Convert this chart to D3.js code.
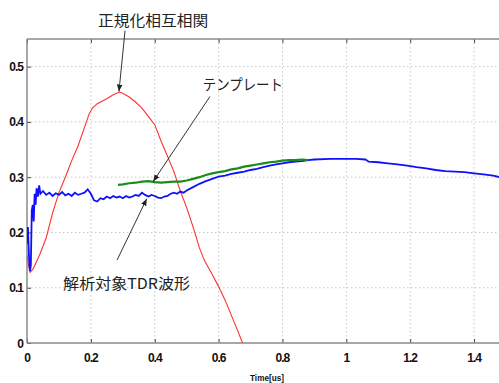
<!DOCTYPE html>
<html>
<head>
<meta charset="utf-8">
<script src="https://cdn.jsdelivr.net/npm/d3@7"></script>
<style>
  body { margin: 0; background: #fff; }
  svg { display: block; }
  .tick-label { font-family: "Liberation Sans", Arial, sans-serif; font-weight: bold; font-size: 12px; letter-spacing: -1px; fill: #111; }
  .note { font-family: "Noto Sans CJK JP", sans-serif; font-size: 15px; fill: #222; }
</style>
</head>
<body>
<div id="app"></div>
<script>
// time [us], value
const nccSeries = [
  [0, 0.159], [0.005, 0.14], [0.01, 0.128], [0.02, 0.135], [0.04, 0.16], [0.06, 0.19],
  [0.08, 0.235], [0.1, 0.272], [0.12, 0.3], [0.14, 0.33], [0.16, 0.357], [0.18, 0.39],
  [0.195, 0.415], [0.205, 0.425], [0.22, 0.433], [0.25, 0.442], [0.27, 0.449], [0.29, 0.454],
  [0.3, 0.452], [0.32, 0.445], [0.34, 0.436], [0.36, 0.425], [0.38, 0.41], [0.4, 0.395],
  [0.42, 0.365], [0.44, 0.338], [0.46, 0.31], [0.48, 0.275], [0.5, 0.245], [0.52, 0.21],
  [0.54, 0.172], [0.555, 0.15], [0.58, 0.124], [0.6, 0.102], [0.62, 0.078], [0.64, 0.05],
  [0.66, 0.022], [0.675, 0], [0.69, -0.02]
];

const tdrSeries = [
  [0, 0.18], [0.003, 0.21], [0.006, 0.16], [0.009, 0.13], [0.012, 0.14], [0.015, 0.24],
  [0.018, 0.25], [0.021, 0.22], [0.024, 0.27], [0.027, 0.25], [0.03, 0.28], [0.034, 0.265],
  [0.038, 0.285], [0.042, 0.27], [0.05, 0.275], [0.06, 0.268], [0.07, 0.272], [0.08, 0.266],
  [0.09, 0.271], [0.1, 0.268], [0.11, 0.273], [0.12, 0.267], [0.13, 0.27], [0.14, 0.266],
  [0.15, 0.272], [0.16, 0.268], [0.17, 0.27], [0.18, 0.272], [0.19, 0.278], [0.2, 0.27],
  [0.21, 0.258], [0.22, 0.256], [0.23, 0.262], [0.24, 0.26], [0.25, 0.265], [0.26, 0.262],
  [0.27, 0.266], [0.28, 0.263], [0.29, 0.265], [0.3, 0.262], [0.31, 0.266], [0.32, 0.263],
  [0.33, 0.265], [0.34, 0.268], [0.35, 0.266], [0.36, 0.272], [0.37, 0.268], [0.38, 0.265],
  [0.39, 0.268], [0.4, 0.266], [0.41, 0.263], [0.42, 0.262], [0.43, 0.265], [0.44, 0.266],
  [0.45, 0.27], [0.46, 0.272], [0.47, 0.27], [0.48, 0.274], [0.49, 0.272], [0.5, 0.276],
  [0.52, 0.282], [0.54, 0.288], [0.56, 0.293], [0.58, 0.297], [0.6, 0.301], [0.62, 0.303],
  [0.64, 0.306], [0.66, 0.308], [0.68, 0.31], [0.7, 0.313], [0.72, 0.315], [0.74, 0.318],
  [0.76, 0.321], [0.78, 0.323], [0.8, 0.325], [0.82, 0.327], [0.84, 0.328], [0.86, 0.329],
  [0.88, 0.331], [0.9, 0.332], [0.95, 0.333], [1.0, 0.333], [1.03, 0.333], [1.06, 0.332],
  [1.07, 0.328], [1.1, 0.327], [1.13, 0.325], [1.16, 0.323], [1.19, 0.321], [1.22, 0.318],
  [1.25, 0.316], [1.28, 0.313], [1.31, 0.311], [1.34, 0.31], [1.37, 0.309], [1.4, 0.307],
  [1.43, 0.305], [1.46, 0.303], [1.48, 0.3], [1.5, 0.298]
];

const templateSeries = [
  [0.285, 0.286], [0.3, 0.287], [0.32, 0.289], [0.34, 0.29], [0.36, 0.292], [0.38, 0.293],
  [0.4, 0.291], [0.42, 0.29], [0.44, 0.291], [0.46, 0.292], [0.48, 0.292], [0.5, 0.294],
  [0.52, 0.297], [0.54, 0.3], [0.56, 0.304], [0.58, 0.307], [0.6, 0.309], [0.62, 0.311],
  [0.64, 0.314], [0.66, 0.316], [0.68, 0.319], [0.7, 0.321], [0.72, 0.323], [0.74, 0.325],
  [0.76, 0.327], [0.78, 0.328], [0.8, 0.33], [0.82, 0.331], [0.84, 0.331], [0.86, 0.332],
  [0.88, 0.331]
];

const xTicks = [0, 0.2, 0.4, 0.6, 0.8, 1, 1.2, 1.4];
const yTicks = [0, 0.1, 0.2, 0.3, 0.4, 0.5];

// annotation: label, text centre (t,v), arrow from (t,v) to (t,v)
const notes = [
  { text: "正規化相互相関", x: 0.395, y: 0.573, len: 110, from: [0.307, 0.565], to: [0.288, 0.455] },
  { text: "テンプレート", x: 0.676, y: 0.457, len: 80, from: [0.573, 0.446], to: [0.395, 0.292] },
  { text: "解析対象TDR波形", x: 0.312, y: 0.098, len: 127, from: [0.282, 0.150], to: [0.375, 0.261] }
];

const width = 499, height = 383;
const x = d3.scaleLinear().domain([0, 1.5]).range([27, 506]);
const y = d3.scaleLinear().domain([0, 0.55]).range([343, 39]);

const svg = d3.select("#app").append("svg").attr("width", width).attr("height", height);

svg.append("defs").append("clipPath").attr("id", "clip")
  .append("rect").attr("x", 27).attr("y", 39).attr("width", 480).attr("height", 304);

const arrow = svg.select("defs").append("marker")
  .attr("id", "arrow").attr("viewBox", "0 0 10 10").attr("refX", 10).attr("refY", 5)
  .attr("markerWidth", 7).attr("markerHeight", 7).attr("markerUnits", "userSpaceOnUse")
  .attr("orient", "auto");
arrow.append("path").attr("d", "M0,1 L10,5 L0,9 z").attr("fill", "#222");

// grid
const grid = svg.append("g");
grid.selectAll(".gx").data(xTicks.filter((d) => d > 0)).enter().append("line")
  .attr("x1", (d) => x(d)).attr("x2", (d) => x(d)).attr("y1", y(0.55)).attr("y2", y(0))
  .attr("stroke", "#c8c8c8").attr("stroke-dasharray", "1.5,2.5");
grid.selectAll(".gy").data(yTicks.filter((d) => d > 0)).enter().append("line")
  .attr("x1", x(0)).attr("x2", width).attr("y1", (d) => y(d)).attr("y2", (d) => y(d))
  .attr("stroke", "#c8c8c8").attr("stroke-dasharray", "1.5,2.5");

// axes
const axisColor = "#8a8a8a";
svg.append("g").attr("transform", `translate(0,${y(0)})`)
  .call(d3.axisBottom(x).tickValues(xTicks).tickSize(-4).tickFormat(""))
  .call((g) => g.select(".domain").remove())
  .call((g) => g.selectAll("line").attr("stroke", "#444"));
svg.append("g").attr("transform", `translate(0,${y(0.55)})`)
  .call(d3.axisTop(x).tickValues(xTicks).tickSize(-4).tickFormat(""))
  .call((g) => g.select(".domain").remove())
  .call((g) => g.selectAll("line").attr("stroke", "#444"));
svg.append("g").attr("transform", `translate(${x(0)},0)`)
  .call(d3.axisLeft(y).tickValues(yTicks).tickSize(-4).tickFormat(""))
  .call((g) => g.select(".domain").remove())
  .call((g) => g.selectAll("line").attr("stroke", "#444"));

svg.append("line").attr("x1", x(0)).attr("x2", width).attr("y1", y(0)).attr("y2", y(0))
  .attr("stroke", axisColor).attr("stroke-width", 1.5);
svg.append("line").attr("x1", x(0)).attr("x2", width).attr("y1", y(0.55)).attr("y2", y(0.55))
  .attr("stroke", axisColor).attr("stroke-width", 1.5);
svg.append("line").attr("x1", x(0)).attr("x2", x(0)).attr("y1", y(0.55)).attr("y2", y(0))
  .attr("stroke", axisColor).attr("stroke-width", 1.5);

svg.selectAll(".xl").data(xTicks).enter().append("text")
  .attr("class", "tick-label").attr("x", (d) => x(d)).attr("y", 362)
  .attr("text-anchor", "middle").text((d) => d3.format("")(d));
svg.selectAll(".yl").data(yTicks).enter().append("text")
  .attr("class", "tick-label").attr("x", 23).attr("y", (d) => y(d) + 4.5)
  .attr("text-anchor", "end").text((d) => d3.format("")(d));

svg.append("text").attr("x", 250).attr("y", 381)
  .attr("textLength", 34).attr("lengthAdjust", "spacingAndGlyphs")
  .style("font-family", "Liberation Sans, Arial, sans-serif").style("font-weight", "bold")
  .style("font-size", "9px").attr("fill", "#111").text("Time[us]");

// curves
const line = d3.line().x((d) => x(d[0])).y((d) => y(d[1]));
const plot = svg.append("g").attr("clip-path", "url(#clip)");
plot.append("path").datum(nccSeries).attr("d", line)
  .attr("fill", "none").attr("stroke", "#ff3030").attr("stroke-width", 1.1);
plot.append("path").datum(tdrSeries).attr("d", line)
  .attr("fill", "none").attr("stroke", "#1010ff").attr("stroke-width", 1.8);
plot.append("path").datum(templateSeries).attr("d", line)
  .attr("fill", "none").attr("stroke", "#1a8c1a").attr("stroke-width", 2.2);

// annotations
const ann = svg.append("g");
ann.selectAll("line").data(notes).enter().append("line")
  .attr("x1", (d) => x(d.from[0])).attr("y1", (d) => y(d.from[1]))
  .attr("x2", (d) => x(d.to[0])).attr("y2", (d) => y(d.to[1]))
  .attr("stroke", "#333").attr("stroke-width", 1).attr("marker-end", "url(#arrow)");
ann.selectAll("text").data(notes).enter().append("text")
  .attr("class", "note").attr("x", (d) => x(d.x)).attr("y", (d) => y(d.y))
  .attr("text-anchor", "middle")
  .attr("textLength", (d) => d.len).attr("lengthAdjust", "spacingAndGlyphs")
  .text((d) => d.text);
</script>
</body>
</html>
